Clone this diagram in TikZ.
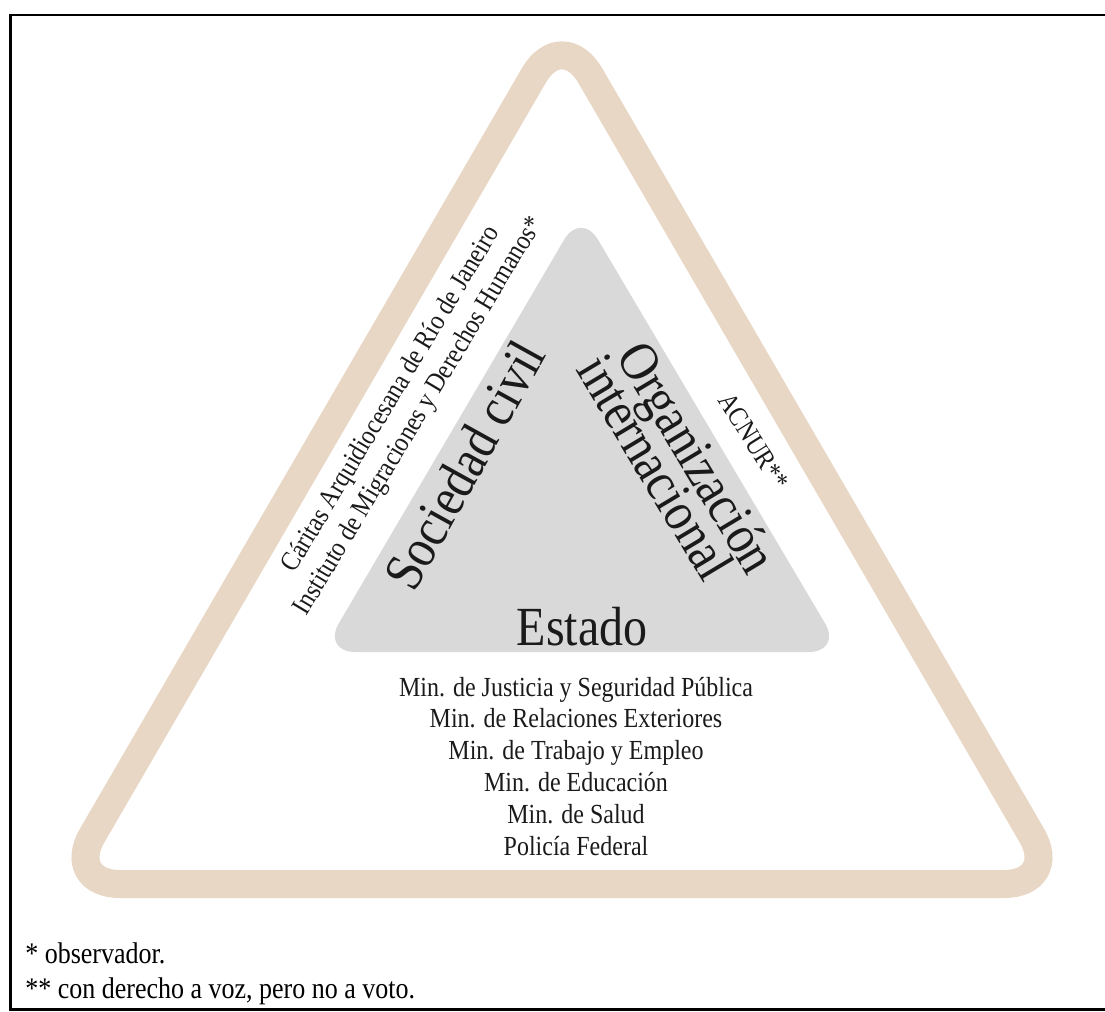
\documentclass[tikz,border=0pt]{standalone}
\usepackage{fontspec}
\setmainfont{Liberation Serif}
\definecolor{beige}{RGB}{233,215,198}
\definecolor{panelgray}{RGB}{217,217,217}
\definecolor{ink}{RGB}{26,26,26}
\begin{document}
\begin{tikzpicture}[x=0.75pt,y=-0.75pt,
  frameline/.style={line width=1.9pt, draw=black},
  outerband/.style={draw=beige, line width=21pt, rounded corners=42pt},
  innerpanel/.style={fill=panelgray, rounded corners=25pt},
  tall/.style={yscale=1.15},
  biglabel/.style={font=\fontsize{36}{36}\selectfont, text=ink, inner sep=0pt, tall},
  smalllabel/.style={font=\fontsize{18}{21.1}\selectfont, text=ink, inner sep=0pt, tall},
  notelabel/.style={font=\fontsize{19.5}{19.5}\selectfont, text=black, inner sep=0pt, anchor=base west, tall}]
\useasboundingbox (0,0) rectangle (1105,1012);

% open frame: top, left and bottom rules
\coordinate (ftl) at (10.5,15);
\coordinate (ftr) at (1105,15);
\coordinate (fbl) at (10.5,1009.5);
\coordinate (fbr) at (1105,1009.5);
\draw[frameline] (ftr) -- (ftl) -- (fbl) -- (fbr);

% outer beige triangle
\coordinate (oa) at (562,27);
\coordinate (ob) at (64,884);
\coordinate (oc) at (1060,884);
\coordinate (om) at (562,884);
\draw[outerband] (om) -- (oc) -- (oa) -- (ob) -- cycle;

% inner grey triangle
\coordinate (ia) at (581,211);
\coordinate (ib) at (322,652);
\coordinate (ic) at (842,652);
\coordinate (im) at (582,652);
\fill[innerpanel] (im) -- (ic) -- (ia) -- (ib) -- cycle;

% sector labels
\node[biglabel, anchor=base] (estado) at (582,645) {Estado};
\node[rotate=61, biglabel, anchor=base] (sociedad) at (481,474) {Sociedad civil};
\node[rotate=-59, biglabel, anchor=base] (orgA) at (681.5,467) {Organización};
\node[rotate=-59, biglabel, anchor=base] (orgB) at (639.7,477) {internacional};

% members
\node[rotate=59, smalllabel, align=center] (civil) at (405.5,408)
  {Cáritas Arquidiocesana de Río de Janeiro\\Instituto de Migraciones y Derechos Humanos*};
\node[rotate=-58, smalllabel, anchor=base] (acnur) at (746,446) {ACNUR**};

\node[smalllabel, anchor=base] (m1) at (576,696) {Min. de Justicia y Seguridad Pública};
\node[smalllabel, anchor=base] (m2) at (576,727.8) {Min. de Relaciones Exteriores};
\node[smalllabel, anchor=base] (m3) at (576,759.6) {Min. de Trabajo y Empleo};
\node[smalllabel, anchor=base] (m4) at (576,791.4) {Min. de Educación};
\node[smalllabel, anchor=base] (m5) at (576,823.2) {Min. de Salud};
\node[smalllabel, anchor=base] (m6) at (576,855) {Policía Federal};

% footnotes
\node[notelabel] (n1) at (25,963) {* observador.};
\node[notelabel] (n2) at (25,998) {** con derecho a voz, pero no a voto.};
\end{tikzpicture}
\end{document}
